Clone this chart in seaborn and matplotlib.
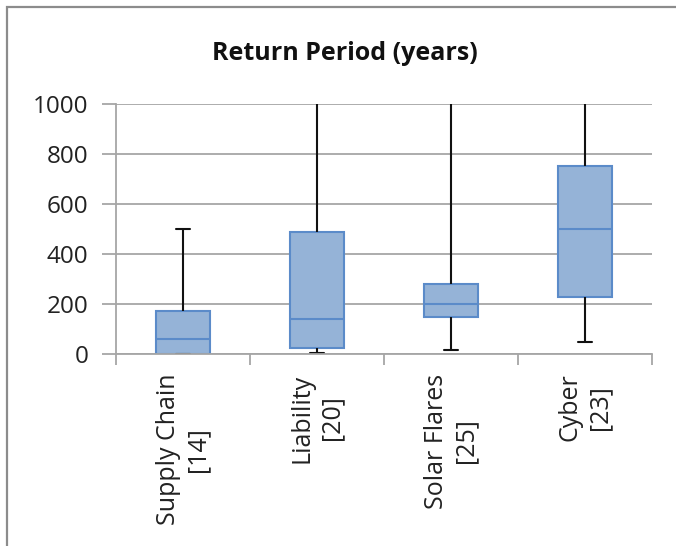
import matplotlib
matplotlib.use("Agg")
import matplotlib.pyplot as plt
from matplotlib.patches import Rectangle
from matplotlib.ticker import FixedLocator
import seaborn as sns
import pandas as pd

# Five-number summaries of the return period (years) per risk category
categories = ["Supply Chain", "Liability", "Solar Flares", "Cyber"]
counts = [14, 20, 25, 23]
mins = [0, 3, 17, 50]
q1s = [2, 23, 150, 227]
medians = [59, 139, 200, 500]
q3s = [173, 487, 279, 750]
maxs = [500, 1000, 1000, 1000]
yticks = [0, 200, 400, 600, 800, 1000]

labels = [f"{c}\n[{n}]" for c, n in zip(categories, counts)]
rows = []
for lab, a, b, c, d, e in zip(labels, mins, q1s, medians, q3s, maxs):
    for v in (a, b, c, d, e):
        rows.append({"category": lab, "years": v})
df = pd.DataFrame(rows)

sns.set_theme(style="white")
plt.rcParams["font.family"] = ["Open Sans", "DejaVu Sans"]

fig = plt.figure(figsize=(6.76, 5.46), dpi=100)
ax = fig.add_axes([116 / 676, 1 - 354 / 546, 536 / 676, 250 / 546])

fill = "#95B3D7"
edge = "#5B8BC9"
sns.boxplot(
    data=df, x="category", y="years", order=labels, ax=ax,
    whis=(0, 100), width=0.4, color=fill, saturation=1,
    linewidth=1.5, linecolor=edge, showfliers=False,
    whiskerprops={"color": "#111111", "linewidth": 1.5},
    capprops={"color": "#111111", "linewidth": 1.5},
    medianprops={"color": edge, "linewidth": 1.5},
    boxprops={"edgecolor": edge, "facecolor": fill},
)

ymax = 1000
# narrow caps; caps sitting on the axis ceiling are cut off
for line in ax.lines:
    xd = line.get_xdata()
    yd = line.get_ydata()
    if len(xd) == 2 and xd[0] != xd[1] and yd[0] == yd[1]:
        half = abs(xd[1] - xd[0]) / 2
        if half < 0.15:
            mid = (xd[0] + xd[1]) / 2
            line.set_xdata([mid - 0.05, mid + 0.05])
            if yd[0] >= ymax:
                line.set_visible(False)

ax.set_ylim(0, ymax)
ax.set_xlim(-0.5, 3.5)
ax.set_yticks(yticks)
ax.set_yticklabels([str(t) for t in yticks], fontsize=17.5, color="#222222")
ax.set_xlabel("")
ax.set_ylabel("")
ax.yaxis.grid(True, color="#A6A6A6", linewidth=1.3)
ax.set_axisbelow(True)

ax.set_xticks(range(len(labels)))
ax.set_xticklabels(labels, rotation=90, fontsize=18, color="#222222",
                   ha="center", va="top", multialignment="center",
                   linespacing=1.25)
ax.xaxis.set_minor_locator(FixedLocator([-0.5, 0.5, 1.5, 2.5, 3.5]))
ax.tick_params(axis="x", which="major", length=0, pad=14)
ax.tick_params(axis="x", which="minor", length=8, width=1.3, color="#A6A6A6",
               bottom=True, direction="out")
ax.tick_params(axis="y", which="major", length=10, width=1.3, color="#A6A6A6",
               left=True, direction="out", pad=10)

for side in ("top", "right"):
    ax.spines[side].set_visible(False)
for side in ("left", "bottom"):
    ax.spines[side].set_color("#A6A6A6")
    ax.spines[side].set_linewidth(1.3)

fig.text(345 / 676, 1 - 53 / 546, "Return Period (years)", ha="center",
         va="center", fontsize=18, fontweight="bold", color="#111111")

# chart frame
fig.patches.append(Rectangle((6.5 / 676, -0.1), 1.2, 1 - 6.5 / 546 + 0.1,
                             transform=fig.transFigure, fill=False,
                             edgecolor="#8C8C8C", linewidth=1.6))

fig.savefig("out.png", dpi=100)
